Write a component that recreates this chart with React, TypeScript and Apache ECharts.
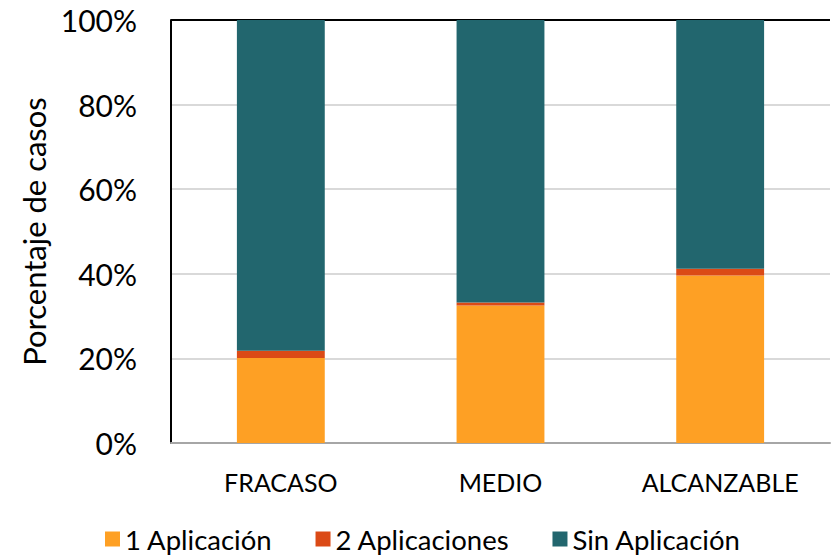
import React, { useEffect, useRef } from "react";
import * as echarts from "echarts";

const categories = ["FRACASO", "MEDIO", "ALCANZABLE"];
const unaAplicacion = [20.1, 32.5, 39.6];
const dosAplicaciones = [1.7, 0.7, 1.6];
const sinAplicacion = [78.2, 66.8, 58.8];
const yTicks = [0, 20, 40, 60, 80, 100];

const FONT = "Lato, 'Open Sans', sans-serif";

export default function App() {
  const ref = useRef<HTMLDivElement>(null);
  useEffect(() => {
    if (!ref.current) return;
    const chart = echarts.init(ref.current, undefined, { renderer: "svg" });
    const splitColors = yTicks.map((t) => (t === 100 ? "#000000" : "#d9d9d9"));
    chart.setOption({
      animation: false,
      textStyle: { fontFamily: FONT },
      grid: { left: 171, right: 1, top: 20, bottom: 114, containLabel: false },
      legend: {
        left: 100,
        top: 518,
        itemWidth: 15,
        itemHeight: 15,
        itemGap: 43,
        icon: "rect",
        textStyle: { fontSize: 27.5, lineHeight: 32, color: "#000", fontFamily: FONT },
        data: ["1 Aplicación", "2 Aplicaciones", "Sin Aplicación"],
      },
      xAxis: {
        type: "category",
        data: categories,
        axisLine: { show: true, lineStyle: { color: "#a6a6a6", width: 2 } },
        axisTick: { show: false },
        axisLabel: { fontSize: 25, color: "#000", margin: 26, fontFamily: FONT },
      },
      yAxis: {
        type: "value",
        min: 0,
        max: 100,
        interval: 20,
        name: "Porcentaje de casos",
        nameLocation: "middle",
        nameGap: 122,
        nameTextStyle: { fontSize: 31, color: "#000", fontFamily: FONT },
        axisLine: { show: true, lineStyle: { color: "#000", width: 2 } },
        axisTick: { show: false },
        splitLine: { show: true, lineStyle: { color: splitColors, width: 2 } },
        axisLabel: {
          fontSize: 30,
          color: "#000",
          margin: 34,
          fontFamily: FONT,
          formatter: (v: number) => `${v}%`,
        },
      },
      series: [
        {
          name: "1 Aplicación",
          type: "bar",
          stack: "total",
          barWidth: "40%",
          itemStyle: { color: "#fea024" },
          data: unaAplicacion,
        },
        {
          name: "2 Aplicaciones",
          type: "bar",
          stack: "total",
          barWidth: "40%",
          itemStyle: { color: "#db4a16" },
          data: dosAplicaciones,
        },
        {
          name: "Sin Aplicación",
          type: "bar",
          stack: "total",
          barWidth: "40%",
          itemStyle: { color: "#22666e" },
          data: sinAplicacion,
        },
      ],
    });
    return () => chart.dispose();
  }, []);
  return (
    <div
      ref={ref}
      style={{ position: "absolute", left: 0, top: 0, width: 831, height: 557 }}
    />
  );
}
